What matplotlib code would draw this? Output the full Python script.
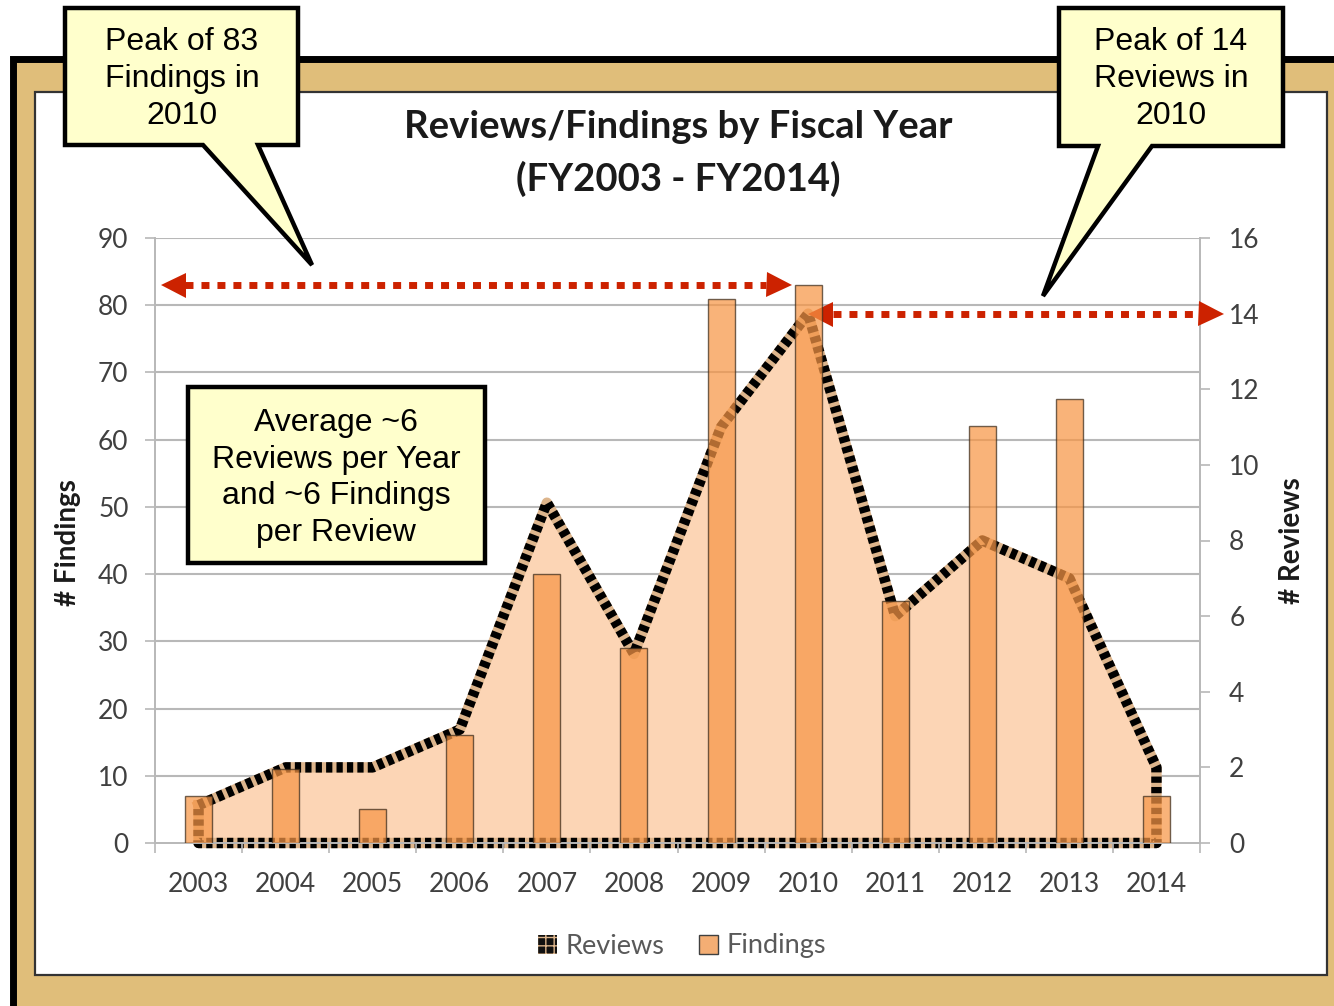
import numpy as np
import matplotlib
matplotlib.use("Agg")
import matplotlib.pyplot as plt
from matplotlib.patches import Rectangle, Polygon, Patch

plt.rcParams['font.family'] = ['Lato', 'DejaVu Sans']

years = ['2003', '2004', '2005', '2006', '2007', '2008',
         '2009', '2010', '2011', '2012', '2013', '2014']
findings = [7, 11, 5, 16, 40, 29, 81, 83, 36, 62, 66, 7]
reviews = [1, 2, 2, 3, 9, 5, 11, 14, 6, 8, 7, 2]
findings_ticks = list(range(0, 91, 10))
reviews_ticks = list(range(0, 17, 2))

peak_findings = 83
peak_reviews = 14

W, H = 1334, 1006
TAN = '#E0BE7A'
BAR = '#F79646'
AREA = '#FCD5B5'
RED = '#CC2200'
GRID = '#B8B8B8'
TXT = '#404040'
NOTE = '#FFFFCC'

fig = plt.figure(figsize=(W / 100, H / 100), dpi=100)


def px(x0, y0, w, h):
    # figure fraction rectangle from pixel box (top-left origin)
    return [x0 / W, 1 - (y0 + h) / H, w / W, h / H]


# background frame
bg = fig.add_axes([0, 0, 1, 1], zorder=0)
bg.set_xlim(0, W)
bg.set_ylim(H, 0)
bg.axis('off')
bg.add_patch(Rectangle((13, 59), 1340, 960, facecolor=TAN, edgecolor='black', lw=5))
bg.add_patch(Rectangle((35, 92), 1292, 883, facecolor='white', edgecolor='#333333', lw=1.6))

# chart axes: left = findings (bars), right = reviews (area)
ax2 = fig.add_axes(px(155, 238, 1045, 605), zorder=1)
ax = fig.add_axes(px(155, 238, 1045, 605), zorder=2)
ax.patch.set_visible(False)
ax2.patch.set_visible(False)
ax2.yaxis.tick_right()

x = np.arange(len(years))

# gridlines at the findings scale, kept behind the area
ax2.hlines(findings_ticks[1:], 0, 1, transform=ax.get_yaxis_transform(),
           colors=GRID, lw=1.5, zorder=0)

ax2.fill_between(x, reviews, 0, color=AREA, lw=0, zorder=1)
ox = list(x) + [x[-1], x[0], x[0]]
oy = list(reviews) + [0, 0, reviews[0]]
ax2.plot(ox, oy, color='#DDB58C', lw=7.5, solid_joinstyle='round',
         clip_on=False, zorder=2)
ax2.plot(ox, oy, color='black', lw=7.5, ls=(0, (0.6, 0.4)),
         dash_capstyle='butt', clip_on=False, zorder=3)

ax.bar(x, findings, width=0.31, color=BAR, alpha=0.72,
       edgecolor='#3a2a1a', lw=1.0, zorder=3)

# limits and ticks
ax.set_xlim(-0.5, len(years) - 0.5)
ax2.set_xlim(-0.5, len(years) - 0.5)
ax.set_ylim(0, 90)
ax2.set_ylim(0, 16)
ax.set_yticks(findings_ticks)
ax2.set_yticks(reviews_ticks)
ax.set_xticks(x, years)
ax.set_xticks(np.arange(-0.5, len(years), 1), minor=True)
ax2.set_xticks([])

ax.tick_params(axis='x', which='major', length=0, pad=21, labelsize=19, labelcolor=TXT)
ax.tick_params(axis='x', which='minor', length=7, width=1.2, color=GRID)
ax.tick_params(axis='y', length=7, width=1.2, color=GRID, pad=12, labelsize=19, labelcolor=TXT)
ax2.tick_params(axis='y', length=7, width=1.2, color=GRID, pad=14, labelsize=19, labelcolor=TXT)

for a in (ax, ax2):
    for s in a.spines.values():
        s.set_visible(False)
ax.spines['left'].set_visible(True)
ax.spines['bottom'].set_visible(True)
ax2.spines['right'].set_visible(True)
for s in (ax.spines['left'], ax.spines['bottom'], ax2.spines['right']):
    s.set_color(GRID)
    s.set_linewidth(1.4)

# red dotted markers for the two peaks
def peak_arrow(a, x0, x1, y, head=0.29):
    a.plot([x0 + head, x1 - head], [y, y], color=RED, lw=5,
           ls=(0, (1.15, 1.15)), dash_capstyle='butt', clip_on=False, zorder=6)
    a.plot([x0 + head / 2], [y], marker='<', ms=18, color=RED, mew=0,
           clip_on=False, zorder=6)
    a.plot([x1 - head / 2], [y], marker='>', ms=18, color=RED, mew=0,
           clip_on=False, zorder=6)


peak_arrow(ax, -0.44, 6.81, peak_findings)
peak_arrow(ax2, 6.99, 11.77, peak_reviews)

# titles and labels
fig.text(678 / W, 1 - 127 / H, 'Reviews/Findings by Fiscal Year', ha='center', va='center',
         fontsize=27.5, fontweight='bold', color='#1a1a1a')
fig.text(678 / W, 1 - 179 / H, '(FY2003 - FY2014)', ha='center', va='center',
         fontsize=27.5, fontweight='bold', color='#1a1a1a')
fig.text(68 / W, 1 - 543 / H, '# Findings', rotation=90, ha='center', va='center',
         fontsize=20, fontweight='bold', color='#1a1a1a')
fig.text(1292 / W, 1 - 541 / H, '# Reviews', rotation=90, ha='center', va='center',
         fontsize=20, fontweight='bold', color='#1a1a1a')

handles = [Patch(facecolor='#111111', edgecolor='#DDB58C', hatch='++', lw=0),
           Patch(facecolor='#F4AE74', edgecolor='#404040', lw=1)]
fig.legend(handles, ['Reviews', 'Findings'], loc='center', ncol=2, frameon=False,
           bbox_to_anchor=(682 / W, 1 - 946 / H), fontsize=19.5, labelcolor='#595959',
           handlelength=0.7, handleheight=0.7, handletextpad=0.3, columnspacing=1.3)

# callouts drawn on top, in pixel coordinates
ov = fig.add_axes([0, 0, 1, 1], zorder=5)
ov.set_xlim(0, W)
ov.set_ylim(H, 0)
ov.axis('off')

bubbles = [
    [(65, 8), (298, 8), (298, 145), (258, 145), (312, 265), (203, 145), (65, 145)],
    [(1059, 8), (1283, 8), (1283, 146), (1152, 146), (1043, 296), (1098, 146), (1059, 146)],
    [(188, 387), (485, 387), (485, 563), (188, 563)],
]
for pts in bubbles:
    ov.add_patch(Polygon(pts, closed=True, facecolor=NOTE, edgecolor='black',
                         lw=3.2, joinstyle='miter'))

notes = [
    (182, 79, 'Peak of 83\nFindings in\n2010'),
    (1171, 79, 'Peak of 14\nReviews in\n2010'),
    (336, 478, 'Average ~6\nReviews per Year\nand ~6 Findings\nper Review'),
]
for tx, ty, s in notes:
    ov.text(tx, ty, s, ha='center', va='center', fontsize=23, linespacing=1.3,
            family='Liberation Sans', color='black')

fig.savefig('out.png', dpi=100)
